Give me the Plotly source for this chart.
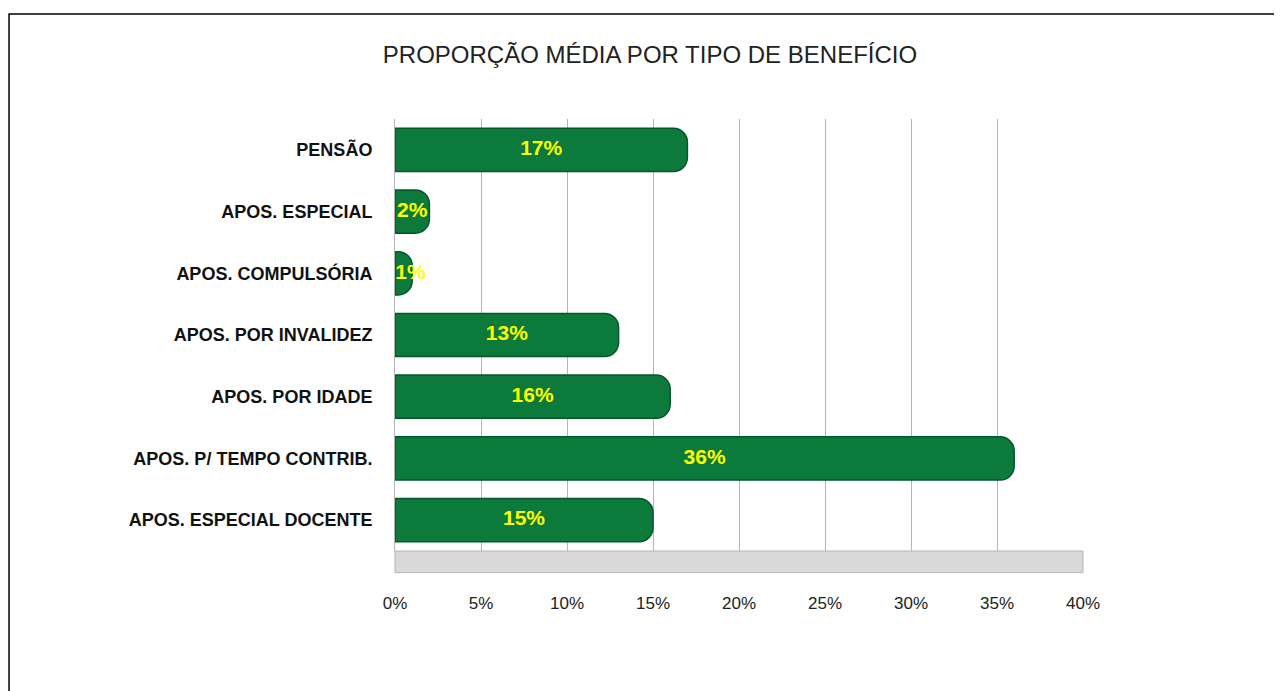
import plotly.graph_objects as go

categories = ["PENSÃO", "APOS. ESPECIAL", "APOS. COMPULSÓRIA", "APOS. POR INVALIDEZ",
              "APOS. POR IDADE", "APOS. P/ TEMPO CONTRIB.", "APOS. ESPECIAL DOCENTE"]
values = [17, 2, 1, 13, 16, 36, 15]
tick_vals = [0, 5, 10, 15, 20, 25, 30, 35, 40]
tick_text = ["0%", "5%", "10%", "15%", "20%", "25%", "30%", "35%", "40%"]
title_text = "PROPORÇÃO MÉDIA POR TIPO DE BENEFÍCIO"

FONT = "Liberation Sans, Arial"

fig = go.Figure()
fig.add_trace(go.Bar(
    y=categories, x=values, orientation="h",
    marker=dict(color="#0b7a3b", line=dict(color="#05562a", width=1.5), cornerradius=14),
    width=0.7,
    hoverinfo="skip",
))
# value labels centred on each bar
fig.add_trace(go.Scatter(
    y=categories, x=[max(v / 2, 0.9) for v in values], mode="text",
    text=[f"{v}%" for v in values],
    textposition="middle center",
    textfont=dict(family=FONT, size=21, color="#ffff00", weight="bold"),
    cliponaxis=False, hoverinfo="skip",
))

fig.update_layout(
    width=1282, height=691,
    margin=dict(l=387, r=207, t=111, b=148),
    paper_bgcolor="white", plot_bgcolor="white",
    showlegend=False,
    title=dict(text=title_text, x=642 / 1282, xanchor="center", xref="container",
               y=1 - 47 / 691, yanchor="middle", yref="container",
               font=dict(family=FONT, size=24, color="#222222")),
    xaxis=dict(range=[0, 40], tickvals=tick_vals, ticktext=tick_text,
               showgrid=True, gridcolor="#b5b5b5", gridwidth=1,
               zeroline=False, showline=False, ticks="",
               ticklabelstandoff=40,
               tickfont=dict(family=FONT, size=17, color="#222222")),
    yaxis=dict(autorange="reversed", showgrid=False, zeroline=False,
               showline=True, linecolor="#b5b5b5", linewidth=1, ticks="",
               ticklabelstandoff=18,
               tickfont=dict(family=FONT, size=18, color="#111111", weight="bold")),
    shapes=[
        dict(type="rect", xref="paper", yref="paper", x0=0, x1=1, y0=-0.05, y1=0,
             fillcolor="#d9d9d9", line=dict(color="#b5b5b5", width=1), layer="below"),
        dict(type="rect", xref="paper", yref="paper", x0=-0.561, x1=1.4, y0=-0.6, y1=1.243,
             fillcolor="rgba(0,0,0,0)", line=dict(color="black", width=1.5)),
    ],
)

fig.write_html("out.html")
